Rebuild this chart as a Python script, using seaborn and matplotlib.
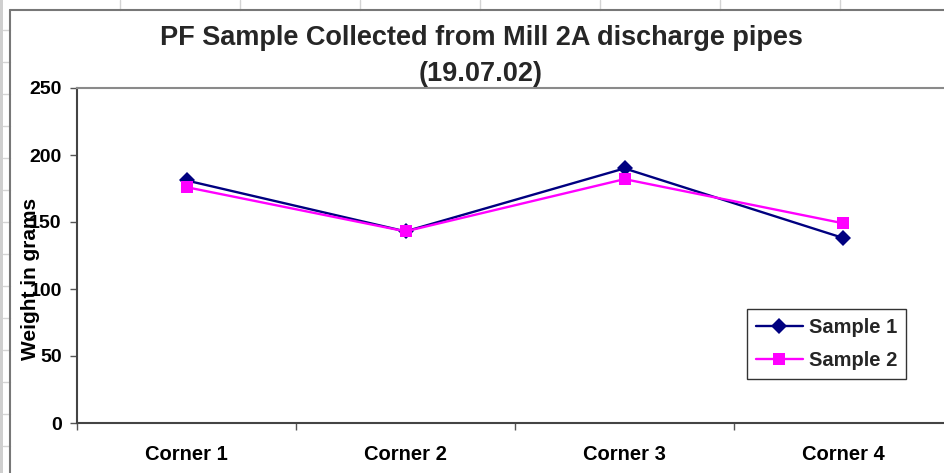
import matplotlib
matplotlib.use("Agg")
import matplotlib.pyplot as plt
import matplotlib.lines as mlines
import pandas as pd
import seaborn as sns

# values
corners = ["Corner 1", "Corner 2", "Corner 3", "Corner 4"]
sample_1 = [181, 143, 190, 138]
sample_2 = [176, 143, 182, 149]
y_ticks = [0, 50, 100, 150, 200, 250]

df = pd.DataFrame({
    "corner": corners * 2,
    "weight": sample_1 + sample_2,
    "sample": ["Sample 1"] * 4 + ["Sample 2"] * 4,
})

sns.set_theme(style="white")
plt.rcParams['font.family'] = ['Liberation Sans', 'DejaVu Sans']
plt.rcParams['font.weight'] = 'bold'

fig = plt.figure(figsize=(9.45, 4.73), dpi=100)

# spreadsheet cells peeking out behind the chart
for x in range(120, 945, 120):
    fig.add_artist(mlines.Line2D([x / 945, x / 945], [1 - 10 / 473, 1], color="#d4d4d4", lw=1))
for y in range(30, 473, 32):
    fig.add_artist(mlines.Line2D([3 / 945, 10 / 945], [1 - y / 473, 1 - y / 473], color="#d4d4d4", lw=1))
fig.add_artist(plt.Rectangle((0, 0), 3 / 945, 1, transform=fig.transFigure, color="#cfcfcf", lw=0))
# chart area border
fig.add_artist(mlines.Line2D([10 / 945, 1], [1 - 10 / 473, 1 - 10 / 473], color="#777777", lw=1.5))
fig.add_artist(mlines.Line2D([10 / 945, 10 / 945], [0, 1 - 10 / 473], color="#777777", lw=1.5))

ax = fig.add_axes([77 / 945, 50 / 473, 876 / 945, 335 / 473])

sns.lineplot(data=df, x="corner", y="weight", hue="sample", style="sample",
             palette={"Sample 1": "#000080", "Sample 2": "#ff00ff"},
             markers={"Sample 1": "D", "Sample 2": "s"}, dashes=False,
             markersize=8, markeredgewidth=0, linewidth=1.7, ax=ax)

ax.set_xlim(-0.5, 3.5)
ax.set_ylim(0, 250)
ax.set_yticks(y_ticks)
ax.set_xticks(range(len(corners)))
ax.set_xticklabels(corners)
ax.set_xticks([-0.5, 0.5, 1.5, 2.5, 3.5], minor=True)
ax.tick_params(axis="x", which="major", length=0, pad=16, labelsize=14.5)
ax.tick_params(axis="x", which="minor", length=5, width=1, color="#555555", direction="out", bottom=True)
ax.tick_params(axis="y", length=5, width=1, color="#555555", direction="out", left=True, labelsize=14, pad=6)
for lab in ax.get_xticklabels() + ax.get_yticklabels():
    lab.set_fontweight("bold")
    lab.set_color("black")

for side in ["left", "bottom"]:
    ax.spines[side].set_color("#444444")
    ax.spines[side].set_linewidth(1.5)
ax.spines["top"].set_color("#8a8a8a")
ax.spines["top"].set_linewidth(1.5)
ax.spines["right"].set_visible(False)

ax.set_xlabel("")
ax.set_ylabel("Weight in grams", fontsize=15, fontweight="bold", color="black")
ax.yaxis.set_label_coords(-0.042, 0.43)

fig.text(481 / 945, 1 - 38 / 473, "PF Sample Collected from Mill 2A discharge pipes",
         ha="center", va="center", fontsize=19.5, fontweight="bold")
fig.text(481 / 945, 1 - 74 / 473, "(19.07.02)",
         ha="center", va="center", fontsize=19.5, fontweight="bold")

leg = ax.legend(loc="lower left", bbox_to_anchor=(0.765, 0.13), fontsize=14.5,
                frameon=True, fancybox=False, handlelength=2.3, handletextpad=0.3,
                borderpad=0.45, labelspacing=0.7, borderaxespad=0)
leg.get_frame().set_edgecolor("black")
leg.get_frame().set_linewidth(1)
for t in leg.get_texts():
    t.set_fontweight("bold")

fig.savefig("out.png", dpi=100)
